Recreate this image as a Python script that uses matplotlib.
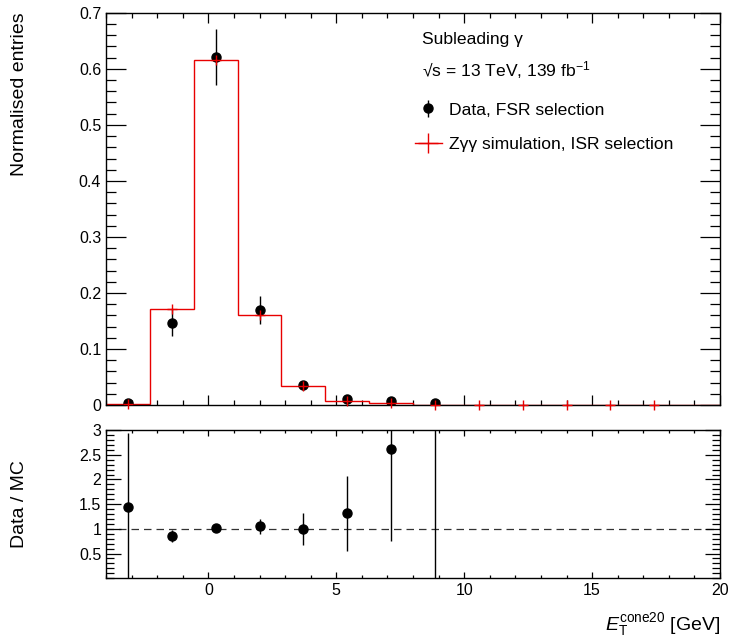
import numpy as np
import matplotlib
matplotlib.use("Agg")
import matplotlib.pyplot as plt
from matplotlib.ticker import MultipleLocator
from matplotlib.lines import Line2D

plt.rcParams['font.family'] = ['Liberation Sans', 'DejaVu Sans']
plt.rcParams['mathtext.fontset'] = 'custom'
plt.rcParams['mathtext.rm'] = 'Liberation Sans'
plt.rcParams['mathtext.it'] = 'Liberation Sans:italic'

bin_edges = np.linspace(-4, 20, 15)
mc_values = [0.002, 0.171, 0.616, 0.161, 0.034, 0.008, 0.003, 0.001,
             0.0005, 0.0003, 0.0002, 0.0001, 0.0001, 0.0]
data_values = [0.003, 0.147, 0.621, 0.170, 0.035, 0.011, 0.008, 0.004]
data_errors = [0.003, 0.024, 0.050, 0.025, 0.008, 0.004, 0.004, 0.004]
ratio_values = [1.45, 0.85, 1.01, 1.05, 1.00, 1.32, 2.62, 4.5]
ratio_err_up = [1.5, 0.12, 0.04, 0.15, 0.33, 0.75, 1.0, 4.5]
ratio_err_dn = [1.5, 0.12, 0.04, 0.15, 0.33, 0.77, 1.87, 4.5]
n_mc_markers = 13

centers = 0.5 * (bin_edges[:-1] + bin_edges[1:])
red = '#e80000'

fig = plt.figure(figsize=(7.31, 6.41), dpi=100)
ax1 = fig.add_axes([0.145, 0.368, 0.840, 0.612])
ax2 = fig.add_axes([0.145, 0.098, 0.840, 0.231])

fs = 11.5
fs_title = 14.0
fs_leg = 12.6

# top panel
ax1.stairs(mc_values, bin_edges, color=red, lw=1.0, zorder=2)
nd = len(data_values)
ax1.errorbar(centers[:nd], data_values, yerr=data_errors, fmt='o', color='black',
             ms=6.5, elinewidth=1.0, capsize=0, zorder=3)
ax1.plot(centers[:n_mc_markers], mc_values[:n_mc_markers], ls='none', marker='+',
         color=red, ms=7.5, mew=1.0, clip_on=False, zorder=4)
ax1.set_xlim(-4, 20)
ax1.set_ylim(0, 0.7)
ax1.set_ylabel('Normalised entries', fontsize=fs_title, loc='top')
ax1.yaxis.set_label_coords(-0.127, 1.0)
ax1.xaxis.set_major_locator(MultipleLocator(5))
ax1.xaxis.set_minor_locator(MultipleLocator(1))
ax1.set_yticks(np.arange(0, 0.71, 0.1))
ax1.set_yticklabels(['0'] + ['%.1f' % v for v in np.arange(0.1, 0.71, 0.1)])
ax1.yaxis.set_minor_locator(MultipleLocator(0.02))
ax1.tick_params(labelbottom=False)

# text + legend
ax1.text(0.515, 0.932, 'Subleading γ', transform=ax1.transAxes, fontsize=fs_leg,
         ha='left', va='center')
ax1.text(0.515, 0.855, '√s = 13 TeV, 139 fb$^{\\mathrm{-1}}$', transform=ax1.transAxes,
         fontsize=fs_leg, ha='left', va='center')
eb = ax1.errorbar([], [], yerr=[], fmt='o', color='black', ms=6.5, elinewidth=1.0)
h_mc = Line2D([], [], color=red, marker='+', ms=14, mew=1.0, ls='-', lw=1.0)
leg = ax1.legend([eb, h_mc], ['Data, FSR selection', 'Zγγ simulation, ISR selection'],
                 loc='upper left', bbox_to_anchor=(0.478, 0.812), frameon=False, fontsize=fs_leg,
                 handlelength=1.5, handletextpad=0.45, labelspacing=1.1)

# bottom panel
ax2.axhline(1.0, color='black', ls=(0, (6, 4)), lw=0.9, alpha=0.8)
ax2.errorbar(centers[:nd], ratio_values, yerr=[ratio_err_dn, ratio_err_up], fmt='o',
             color='black', ms=6.5, elinewidth=1.0, capsize=0)
ax2.set_xlim(-4, 20)
ax2.set_ylim(0, 3)
ax2.set_yticks([0.5, 1, 1.5, 2, 2.5, 3])
ax2.set_yticklabels(['0.5', '1', '1.5', '2', '2.5', '3'])
ax2.yaxis.set_minor_locator(MultipleLocator(0.1))
ax2.xaxis.set_major_locator(MultipleLocator(5))
ax2.xaxis.set_minor_locator(MultipleLocator(1))
ax2.set_ylabel('Data / MC', fontsize=fs_title)
ax2.yaxis.set_label_coords(-0.127, 0.5)
ax2.set_xlabel(r'$E_{\mathrm{T}}^{\mathrm{cone20}}$ [GeV]', fontsize=fs_title, loc='right')
ax2.xaxis.set_label_coords(1.0, -0.225)

for ax in (ax1, ax2):
    ax.tick_params(which='both', direction='in', top=True, right=True, labelsize=fs, width=0.9)
    for s in ax.spines.values():
        s.set_linewidth(1.0)
ax1.tick_params(axis='y', which='major', length=14.5)
ax1.tick_params(axis='y', which='minor', length=7)
ax1.tick_params(axis='x', which='major', length=7)
ax1.tick_params(axis='x', which='minor', length=3.6)
ax2.tick_params(axis='y', which='major', length=11)
ax2.tick_params(axis='y', which='minor', length=5.8)
ax2.tick_params(axis='x', which='major', length=4)
ax2.tick_params(axis='x', which='minor', length=2.2)

fig.savefig('out.png', dpi=100)
